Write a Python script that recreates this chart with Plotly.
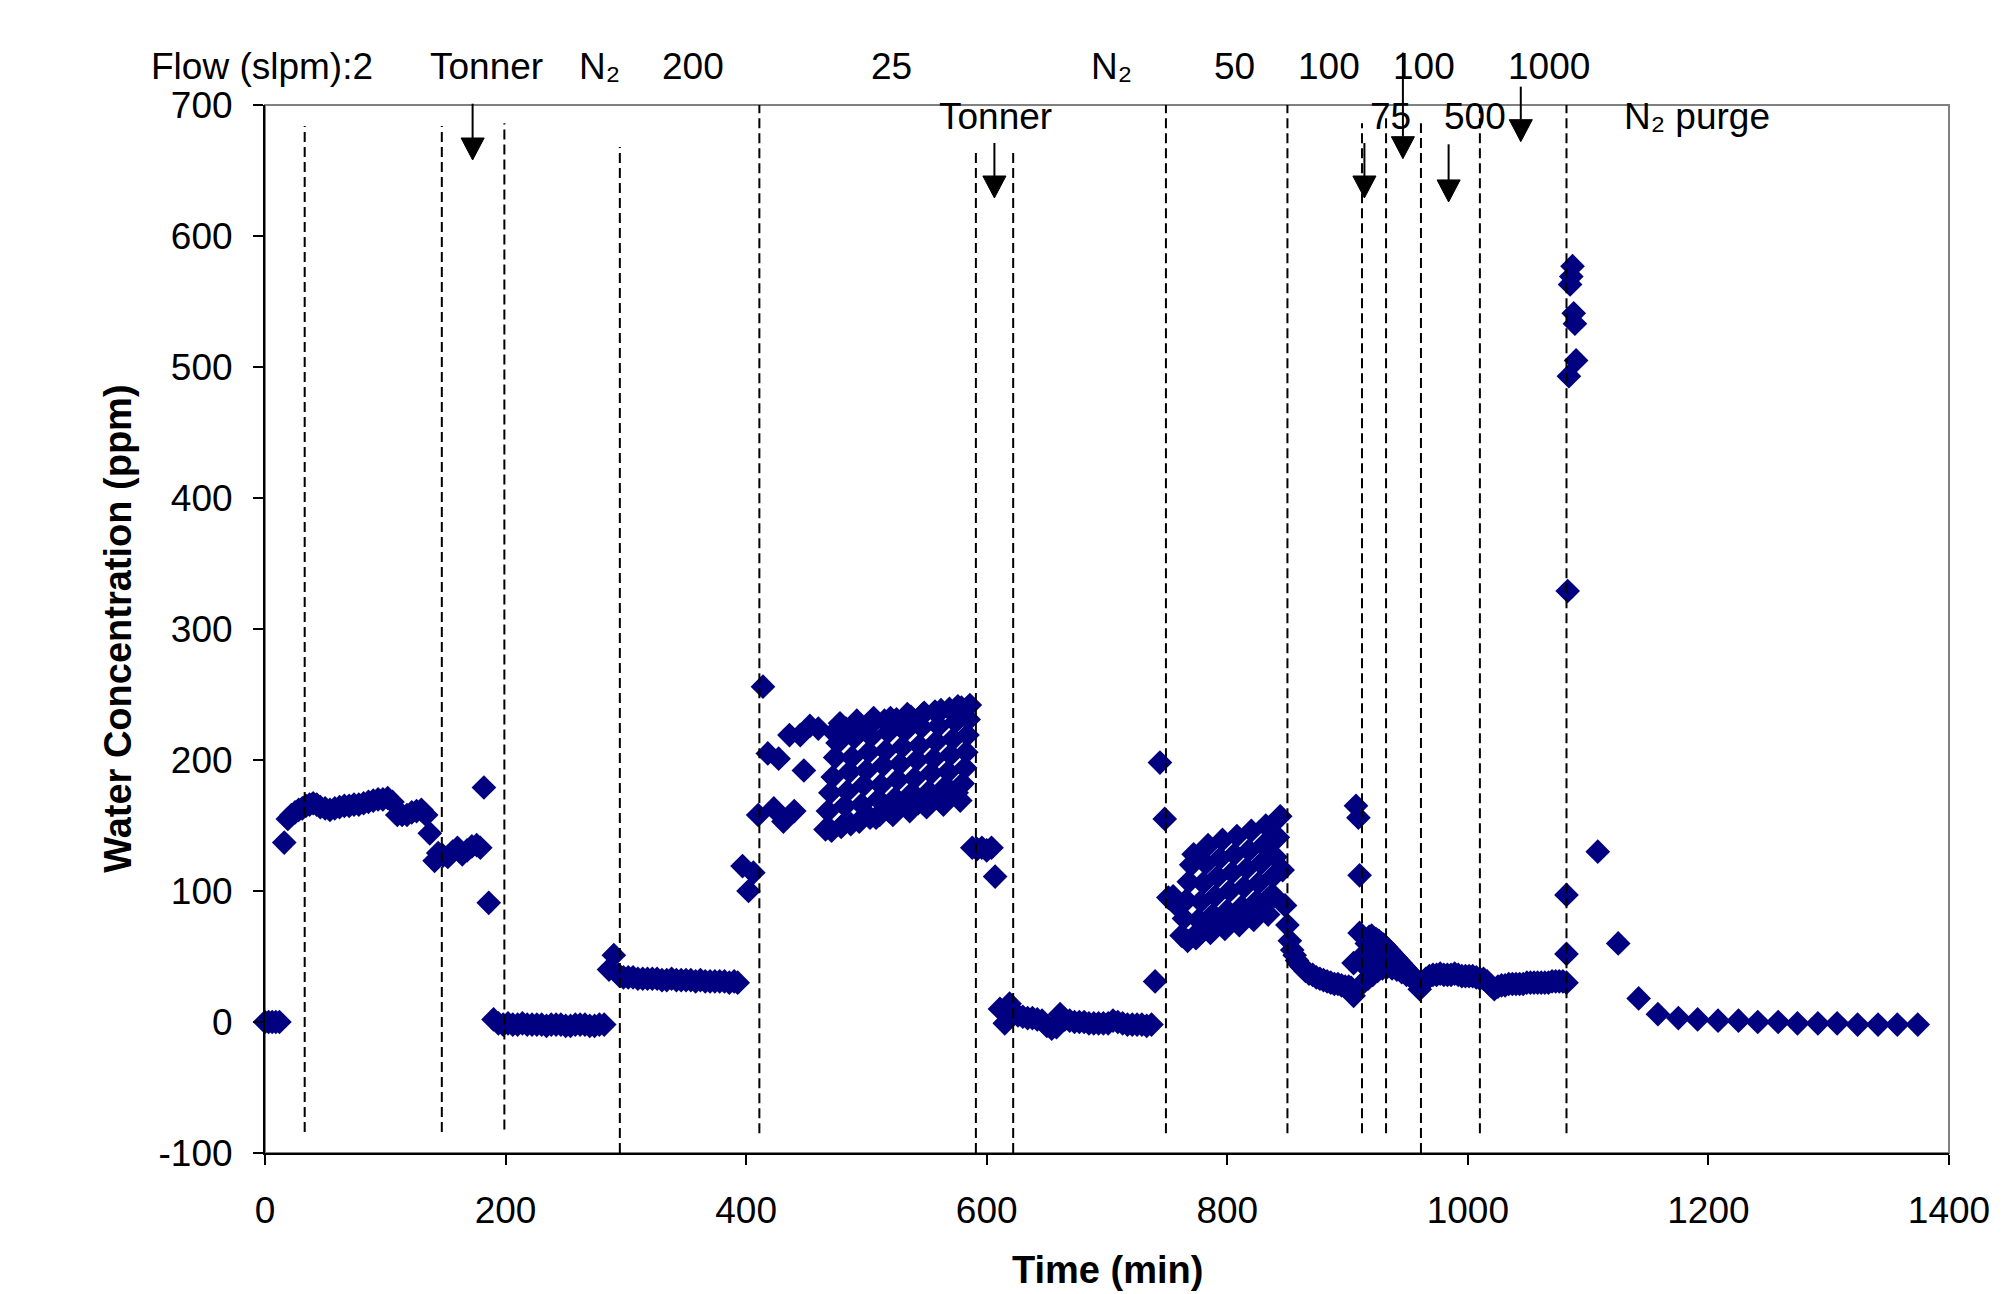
import plotly.graph_objects as go

# ---------------- data (time in min, water concentration in ppm) ----------------
t_flow2 = [0, 3, 6, 9, 12, 16, 19, 22, 25, 28, 31, 34, 37, 40, 43, 46, 50, 54, 58, 62,
           66, 70, 74, 78, 82, 86, 90, 94, 98, 102, 106, 110, 114, 118, 122, 126, 130, 134, 137, 141, 144]
w_flow2 = [0, 0, 0, 0, 0, 137, 155, 158, 160, 162, 163, 165, 166, 167, 166, 164, 163, 162, 163, 164,
           165, 165, 166, 166, 167, 168, 169, 170, 170, 171, 168, 158, 158, 158, 160, 161, 162, 158, 144, 123, 129]

t_tonner1 = [148, 152, 156, 160, 164, 168, 172, 176, 179, 182, 186, 190]
w_tonner1 = [127, 126, 130, 133, 128, 131, 134, 135, 133, 179, 91, 2]

t_n2a = [194, 198, 202, 206, 210, 214, 218, 222, 226, 230, 234, 238, 242, 246, 250, 254, 258, 262,
         266, 270, 274, 278, 282]
w_n2a = [-1, -2, -1, -2, -2, -1, -2, -2, -2, -2, -3, -2, -2, -2, -3, -3, -2, -2, -2, -3, -3, -2, -2]

t_flow200 = [286, 290, 294, 298, 302, 306, 310, 314, 318, 322, 326, 330, 334, 338, 342, 346, 350,
             354, 358, 362, 366, 370, 374, 378, 382, 386, 390, 393, 397, 402, 406]
w_flow200 = [40, 51, 36, 34, 34, 34, 33, 33, 33, 33, 33, 32, 32, 33, 32, 32, 32, 32, 31, 32, 31, 31,
             31, 31, 31, 30, 31, 30, 119, 100, 114]

t_flow25 = [410, 414, 418, 423, 427, 431, 436, 440, 445, 448, 453, 460,
            466, 468, 470, 472, 474, 476, 478, 480, 482, 484, 486, 488, 490, 492,
            494, 496, 498, 500, 502, 504, 506, 508, 510, 512, 514, 516, 518, 520,
            522, 524, 526, 528, 530, 532, 534, 536, 538, 540, 542, 544, 546, 548,
            550, 552, 554, 556, 558, 560, 562, 564, 566, 568, 570, 572, 574, 576,
            578, 580, 582, 583, 584, 585, 586,
            471, 479, 487, 495, 503, 511, 519, 527, 535, 543, 551, 559, 567, 575,
            473, 483, 493, 505, 515, 525, 537, 547, 557, 569, 579]
w_flow25 = [158, 256, 205, 163, 201, 153, 219, 161, 219, 192, 226, 224,
            147, 161, 175, 187, 202, 213, 228, 150, 165, 176, 191, 202, 217, 230,
            153, 166, 181, 192, 206, 218, 232, 156, 170, 181, 196, 207, 221, 232,
            158, 171, 185, 197, 210, 222, 235, 161, 175, 186, 200, 211, 225, 236,
            164, 176, 190, 201, 214, 226, 238, 166, 180, 191, 204, 216, 229, 241,
            169, 182, 194, 206, 219, 231, 242,
            146, 149, 151, 154, 156, 158, 161, 163, 165, 167, 169, 171, 173, 175,
            221, 224, 226, 228, 230, 231, 233, 235, 237, 239, 240]

t_tonner2 = [588, 592, 596, 600, 604, 607, 611, 615, 619]
w_tonner2 = [133, 132, 133, 131, 133, 111, 10, -1, 14]

t_n2b = [622, 626, 630, 634, 638, 642, 646, 650, 654, 658, 661, 665, 669, 673, 677, 681, 685, 689,
         693, 697, 701, 705, 709, 713, 717, 721, 725, 729, 733, 737, 740, 744, 748]
w_n2b = [6, 5, 4, 3, 3, 2, 1, -3, -5, -4, 6, 2, 1, 0, 0, 0, -1, -1, -1, -1, -1, 1, 0, -1, -2, -2,
         -2, -2, -3, -2, 31, 198, 155]

t_flow50 = [751, 755, 759, 762, 764, 766, 768, 770, 772, 774, 776, 778, 780, 782, 784,
            786, 788, 790, 792, 794, 796, 798, 800, 802, 804, 806, 808, 810, 812, 814, 816, 818, 820,
            822, 824, 826, 828, 830, 832, 834, 836, 838, 840, 842, 844, 846, 848,
            767, 773, 779, 785, 791, 797, 803, 809, 815, 821, 827, 833, 839]
w_flow50 = [95, 96, 88, 66, 79, 93, 107, 120, 128, 64, 78, 92, 106, 121, 135,
            68, 82, 96, 111, 125, 139, 71, 85, 100, 114, 128, 142, 74, 88, 103, 117, 131, 146,
            78, 92, 106, 121, 135, 150, 82, 96, 111, 126, 141, 157, 116, 89,
            62, 66, 69, 72, 75, 77, 80, 82, 85, 88, 90, 93, 96]

t_flow100a = [850, 852, 854, 856, 858, 860, 862, 865, 868, 871, 874, 877, 880, 883, 886, 889, 892,
              895, 898, 901, 903, 905, 905, 907, 909, 910, 910]
w_flow100a = [74, 62, 55, 51, 47, 44, 42, 39, 37, 36, 34, 33, 32, 31, 30, 29, 29, 28, 27, 27, 26,
              45, 20, 165, 156, 112, 68]

t_flow75 = [912, 914, 916, 918, 920, 922, 924, 926, 928, 930, 932, 934, 936, 938, 940, 942, 944,
            946, 948, 950, 952, 954, 956, 958, 960,
            913, 917, 921, 925, 929, 933, 937, 941, 945, 949, 953, 957,
            915, 919, 923, 927, 931, 935, 939]
w_flow75 = [45, 52, 60, 65, 66, 64, 63, 62, 60, 59, 57, 55, 53, 51, 49, 47, 45, 43, 41, 39, 37, 35,
            33, 31, 25,
            30, 33, 36, 39, 41, 42, 41, 40, 38, 36, 34, 32,
            45, 48, 50, 50, 48, 46, 44]

t_flow500 = [962, 965, 968, 971, 974, 977, 980, 983, 986, 989, 992, 995, 998, 1001, 1004, 1007, 1010]
w_flow500 = [29, 33, 35, 36, 36, 37, 36, 36, 36, 37, 36, 35, 35, 35, 35, 34, 33]

t_flow1000 = [1013, 1016, 1019, 1022, 1025, 1028, 1031, 1034, 1037, 1040, 1043, 1046, 1049, 1052,
              1055, 1058, 1061, 1064, 1067, 1070, 1073, 1076, 1079]
w_flow1000 = [33, 31, 28, 25, 27, 28, 28, 29, 29, 29, 29, 29, 30, 30, 30, 30, 30, 30, 30, 31, 31, 31, 31]

t_purge = [1082, 1082, 1082, 1083, 1084, 1085, 1086, 1087, 1088, 1089, 1090, 1108, 1125, 1142, 1158,
           1175, 1191, 1208, 1225, 1241, 1258, 1274, 1291, 1307, 1324, 1341, 1357, 1374]
w_purge = [30, 52, 97, 329, 493, 563, 569, 577, 541, 533, 505, 130, 60, 18, 6, 3, 2, 1, 1, 0, 0,
           -1, -1, -1, -2, -2, -2, -2]

# step-change markers (dashed lines)
step_times = [33, 147, 199, 295, 411, 591, 622, 749, 850, 912, 932, 961, 1010, 1082]
step_tops = [684, 684, 686, 668, 700, 667, 667, 700, 700, 686, 690, 686, 700, 700]
step_bottoms = [-84, -84, -82, -100, -85, -100, -100, -85, -85, -85, -85, -100, -85, -85]

# event labels (time position, row 1 = top line, row 2 = second line)
label_text = ["Flow (slpm):2", "Tonner", "N₂", "200", "25", "N₂", "50", "100",
              "100", "1000", "Tonner", "75", "500", "N₂ purge"]
label_t = [-2.7, 184.4, 278.4, 355.7, 521.2, 704.1, 806, 884.6, 963.2, 1067.5, 607.7, 935.3, 1006, 1190.6]
label_row = [1, 1, 1, 1, 1, 1, 1, 1, 1, 1, 2, 2, 2, 2]

# arrows (time, head value, tail value)
arrow_t = [172.6, 606.4, 914, 946, 984, 1044]
arrow_head = [658, 629, 629, 659, 626, 672]
arrow_tail = [701, 671, 671, 740, 670, 714]

x_ticks = [0, 200, 400, 600, 800, 1000, 1200, 1400]
y_ticks = [-100, 0, 100, 200, 300, 400, 500, 600, 700]

# ---------------- figure ----------------
segments = [(t_flow2, w_flow2), (t_tonner1, w_tonner1), (t_n2a, w_n2a), (t_flow200, w_flow200),
            (t_flow25, w_flow25), (t_tonner2, w_tonner2), (t_n2b, w_n2b), (t_flow50, w_flow50),
            (t_flow100a, w_flow100a), (t_flow75, w_flow75), (t_flow500, w_flow500),
            (t_flow1000, w_flow1000), (t_purge, w_purge)]
t_all, w_all = [], []
for ts, ws in segments:
    t_all += ts
    w_all += ws

FONT = "Liberation Sans, Arial, Helvetica, DejaVu Sans, sans-serif"
X_MAX = 1400.0
Y_MIN, Y_MAX = -100.0, 700.0


def to_paper_y(v):
    return (v - Y_MIN) / (Y_MAX - Y_MIN)


fig = go.Figure()
fig.add_trace(go.Scatter(
    x=t_all, y=w_all, mode="markers",
    marker=dict(symbol="diamond", size=19, color="#000080", line=dict(width=0)),
    showlegend=False, cliponaxis=False,
))

shapes = [dict(type="rect", xref="paper", yref="paper", x0=0, x1=1, y0=0, y1=1,
               line=dict(color="#808080", width=2), layer="below")]
for xt, yt, yb in zip(step_times, step_tops, step_bottoms):
    shapes.append(dict(type="line", xref="x", yref="y", x0=xt, x1=xt, y0=yb, y1=yt,
                       line=dict(color="black", width=2, dash="10px,5px")))

# arrows: shaft + filled triangular head (head ~23 px wide, ~22 px tall)
HEAD_HALF_W = 9.6      # in minutes
HEAD_H = 0.021         # in paper fraction
for at, ah, atl in zip(arrow_t, arrow_head, arrow_tail):
    tip = to_paper_y(ah)
    base = tip + HEAD_H
    tail = to_paper_y(atl)
    shapes.append(dict(type="line", xref="x", yref="paper", x0=at, x1=at, y0=base, y1=tail,
                       line=dict(color="black", width=2)))
    shapes.append(dict(type="path", xref="x", yref="paper",
                       path=f"M {at - HEAD_HALF_W},{base} L {at + HEAD_HALF_W},{base} L {at},{tip} Z",
                       fillcolor="black", line=dict(color="black", width=1)))

annotations = []
for txt, tx, row in zip(label_text, label_t, label_row):
    annotations.append(dict(x=tx / X_MAX, y=1.0366 if row == 1 else 0.989, xref="paper", yref="paper",
                            text=txt, showarrow=False, xanchor="center", yanchor="middle",
                            font=dict(family=FONT, size=37, color="black")))
annotations.append(dict(x=-0.0874, y=0.5, xref="paper", yref="paper", text="Water Concentration (ppm)",
                        textangle=-90, showarrow=False, xanchor="center", yanchor="middle",
                        font=dict(family=FONT, size=38, color="black", weight="bold")))
annotations.append(dict(x=0.5, y=-0.112, xref="paper", yref="paper", text="Time (min)",
                        showarrow=False, xanchor="center", yanchor="middle",
                        font=dict(family=FONT, size=38, color="black", weight="bold")))

fig.update_layout(
    width=2009, height=1294, autosize=False,
    margin=dict(l=265, r=60, t=105, b=141, pad=0),
    paper_bgcolor="white", plot_bgcolor="white",
    font=dict(family=FONT, size=37, color="black"),
    shapes=shapes, annotations=annotations, showlegend=False,
)
fig.update_xaxes(range=[0, 1400], tickvals=x_ticks, ticktext=[str(v) for v in x_ticks],
                 ticks="outside", ticklen=10, tickwidth=2, tickcolor="black",
                 showline=True, linecolor="black", linewidth=2, showgrid=False, zeroline=False,
                 ticklabelstandoff=14, tickfont=dict(family=FONT, size=37, color="black"))
fig.update_yaxes(range=[-100, 700], tickvals=y_ticks, ticktext=[str(v) for v in y_ticks],
                 ticks="outside", ticklen=10, tickwidth=2, tickcolor="black",
                 showline=True, linecolor="black", linewidth=2, showgrid=False, zeroline=False,
                 ticklabelstandoff=13, tickfont=dict(family=FONT, size=37, color="black"))

fig.write_html("out.html")
